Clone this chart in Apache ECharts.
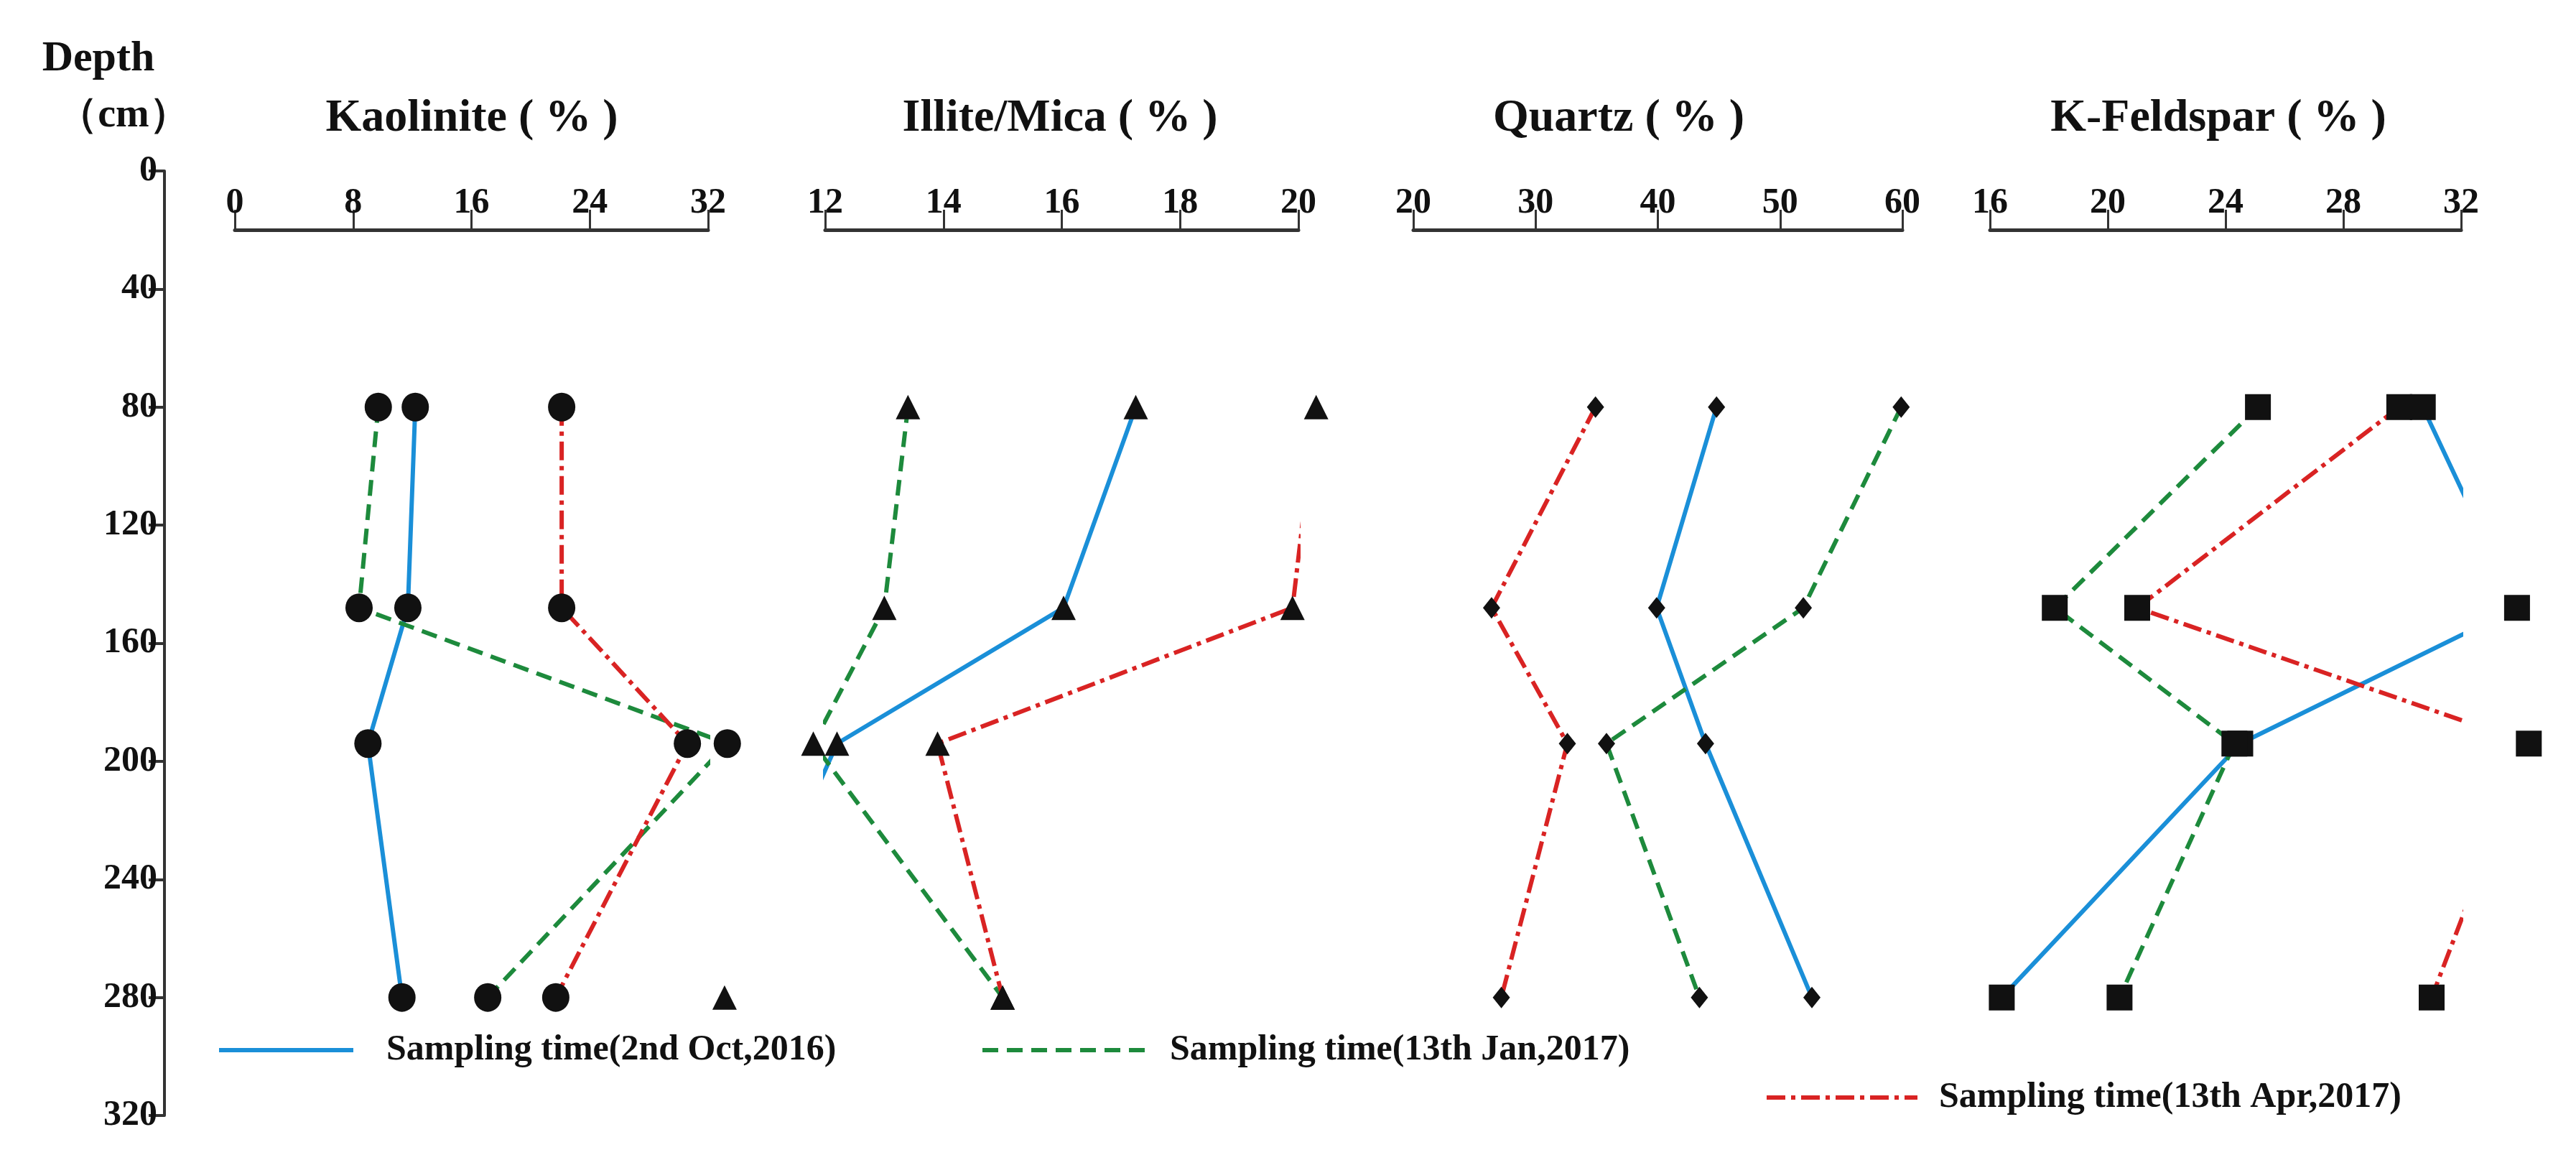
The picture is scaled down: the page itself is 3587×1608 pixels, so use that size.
<!DOCTYPE html>
<html><head><meta charset="utf-8">
<script src="https://cdn.jsdelivr.net/npm/echarts@6/dist/echarts.min.js"></script>
<style>html,body{margin:0;padding:0;background:#fff}#c{width:3587px;height:1608px}</style>
</head><body><div id="c"></div>
<script>
const depths = [80, 148, 194, 280];
const depthTicks = [0, 40, 80, 120, 160, 200, 240, 280, 320];
const seriesNames = ['Sampling time(2nd Oct,2016)', 'Sampling time(13th Jan,2017)', 'Sampling time(13th Apr,2017)'];
const kaolinite = [[12.2, 11.7, 9.0, 11.3], [9.7, 8.4, 33.3, 17.1], [22.1, 22.1, 30.6, 21.7]];
const illite = [[17.25, 16.03, 12.2, 10.3], [13.4, 13.0, 11.8, 15.0], [20.3, 19.9, 13.9, 15.0]];
const quartz = [[44.8, 39.9, 43.9, 52.6], [59.9, 51.9, 35.8, 43.4], [34.9, 26.4, 32.6, 27.2]];
const kfeldspar = [[30.7, 33.9, 24.5, 16.4], [25.1, 18.2, 24.3, 20.4], [29.9, 21.0, 34.3, 31.0]];
const panelTitles = ['Kaolinite ( % )', 'Illite/Mica ( % )', 'Quartz ( % )', 'K-Feldspar ( % )'];
const panelAxes = [{min:0,max:32,interval:8},{min:12,max:20,interval:2},{min:20,max:60,interval:10},{min:16,max:32,interval:4}];
const panelData = [kaolinite, illite, quartz, kfeldspar];

const font = 'Liberation Serif';
const colors = ['#1a8fd8', '#1d8a3c', '#d92323'];
const lineTypes = ['solid', [22, 12], [26, 8, 6, 8]];
const symbols = ['circle', 'triangle', 'diamond', 'rect'];
const symSizes = [[38, 40], [34, 34], [24, 30], [36, 36]];
const gridPos = [[327, 659], [1149, 659], [1968, 681], [2771, 656]];
const gTop = 238, gBottom = 55;

const grids = gridPos.map(g => ({left: g[0], width: g[1], top: gTop, bottom: gBottom}));
grids.push({left: 229, width: 1, top: gTop, bottom: gBottom});

const xAxes = panelAxes.map((a, i) => ({
  gridIndex: i, type: 'value', position: 'top', offset: -82, min: a.min, max: a.max, interval: a.interval,
  axisLine: {show: true, lineStyle: {color: '#333', width: 5}},
  axisTick: {show: true, inside: false, length: 28, lineStyle: {color: '#333', width: 3}},
  axisLabel: {color: '#111', fontFamily: font, fontWeight: 'bold', fontSize: 50, margin: 12},
  splitLine: {show: false}
}));
xAxes.push({gridIndex: 4, type: 'value', show: false, min: 0, max: 1});

const yAxes = [0,1,2,3].map(i => ({gridIndex: i, type: 'value', inverse: true, min: 0, max: 320, show: false}));
yAxes.push({gridIndex: 4, type: 'value', inverse: true, min: depthTicks[0], max: depthTicks[depthTicks.length-1], interval: 40, position: 'left',
  axisLine: {show: true, lineStyle: {color: '#333', width: 4}},
  axisTick: {show: true, inside: false, length: 22, lineStyle: {color: '#333', width: 4}},
  axisLabel: {color: '#111', fontFamily: font, fontWeight: 'bold', fontSize: 50, margin: 10},
  splitLine: {show: false}
});

const series = [];
panelData.forEach((pd, p) => {
  pd.forEach((vals, s) => {
    series.push({
      type: 'line', name: seriesNames[s], xAxisIndex: p, yAxisIndex: p, clip: false,
      data: vals.map((v, k) => [v, depths[k]]),
      symbol: symbols[p], symbolSize: symSizes[p],
      itemStyle: {color: '#111'},
      lineStyle: {color: colors[s], width: 6, type: lineTypes[s]},
      z: 3
    });
  });
});

const titleX = [657, 1476, 2254, 3089];
const graphic = [];
panelTitles.forEach((t, i) => graphic.push({type: 'text', x: titleX[i], y: 165,
  style: {text: t, font: 'bold 64px "Liberation Serif"', fill: '#111', textAlign: 'center', textVerticalAlign: 'middle'}}));
graphic.push({type: 'text', x: 137, y: 82, style: {text: 'Depth', font: 'bold 60px "Liberation Serif"', fill: '#111', textAlign: 'center', textVerticalAlign: 'middle'}});
graphic.push({type: 'text', x: 172, y: 162, style: {text: '（cm）', font: 'bold 56px "Liberation Serif"', fill: '#111', textAlign: 'center', textVerticalAlign: 'middle'}});
const legPos = [[305, 492, 538, 1462], [1368, 1602, 1629, 1462], [2460, 2670, 2700, 1528]];
legPos.forEach((lp, s) => {
  graphic.push({type: 'line', shape: {x1: lp[0], y1: lp[3], x2: lp[1], y2: lp[3]},
    style: {stroke: colors[s], lineWidth: 6, lineDash: s === 0 ? null : lineTypes[s]}});
  graphic.push({type: 'text', x: lp[2], y: lp[3], style: {text: seriesNames[s], font: 'bold 50px "Liberation Serif"', fill: '#111', textVerticalAlign: 'middle'}});
});

const chart = echarts.init(document.getElementById('c'));
chart.setOption({animation: false, backgroundColor: '#fff', grid: grids, xAxis: xAxes, yAxis: yAxes, series: series, graphic: graphic});
</script></body></html>
